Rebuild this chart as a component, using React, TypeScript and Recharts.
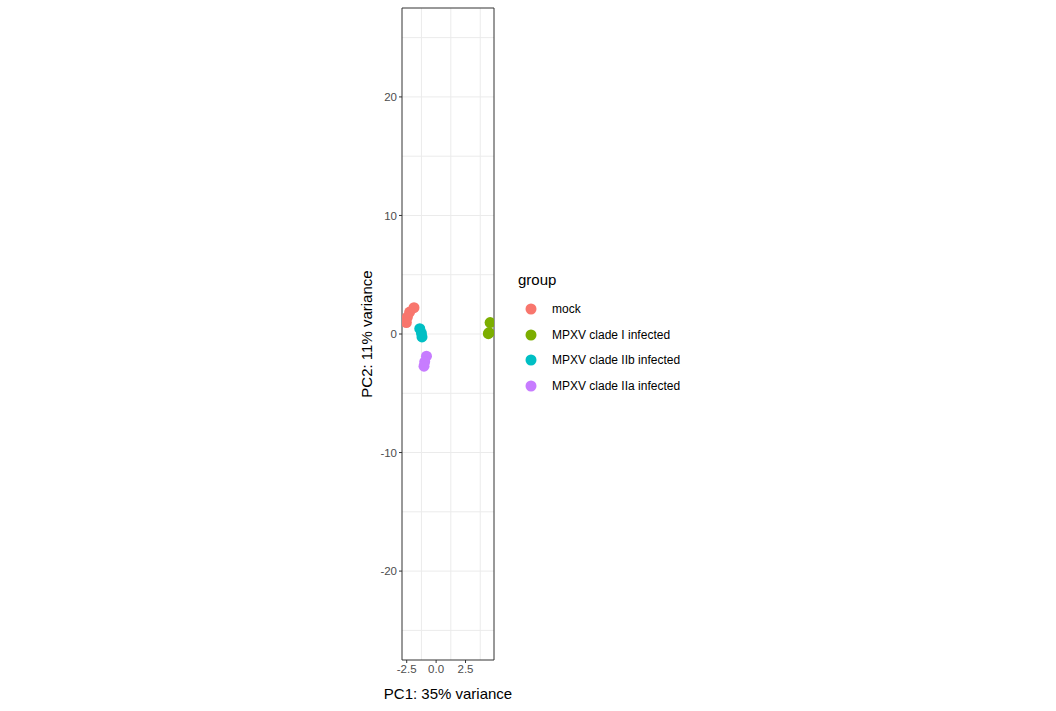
import React from "react";
import { ScatterChart, Scatter, XAxis, YAxis, CartesianGrid, ReferenceArea } from "recharts";

const groups = ["mock", "MPXV clade I infected", "MPXV clade IIb infected", "MPXV clade IIa infected"];
const colors = ["#F8766D", "#7CAE00", "#00BFC4", "#C77CFF"];
const mockPts = [{ x: -1.88, y: 2.22 }, { x: -2.25, y: 1.85 }, { x: -2.44, y: 1.43 }, { x: -2.53, y: 0.96 }];
const clade1Pts = [{ x: 4.59, y: 0.96 }, { x: 4.44, y: 0.03 }, { x: 4.5, y: 0.12 }];
const clade2bPts = [{ x: -1.39, y: 0.45 }, { x: -1.25, y: 0.08 }, { x: -1.2, y: -0.25 }];
const clade2aPts = [{ x: -0.82, y: -1.87 }, { x: -0.97, y: -2.35 }, { x: -1.03, y: -2.71 }];
const series = [mockPts, clade1Pts, clade2bPts, clade2aPts];
const xTicks = [-2.5, 0, 2.5];
const yTicks = [-20, -10, 0, 10, 20];
const xGrid = [-2.5, -1.25, 0, 1.25, 2.5, 3.75];
const yGrid = [-25, -20, -15, -10, -5, 0, 5, 10, 15, 20, 25];
const xDomain: [number, number] = [-2.9, 4.92];
const yDomain: [number, number] = [-27.5, 27.5];

const font = "'Liberation Sans', Arial, sans-serif";
const dot = (color: string) => (p: any) => <circle cx={p.cx} cy={p.cy} r={5.5} fill={color} />;

const LegendBox = () => (
  <div style={{ position: "absolute", left: 518, top: 271, width: 220, fontFamily: font, color: "#000" }}>
    <div style={{ fontSize: 15, marginBottom: 8 }}>group</div>
    {groups.map((g, i) => (
      <div key={g} style={{ display: "flex", alignItems: "center", height: 25.7, fontSize: 12 }}>
        <svg width={24} height={16}><circle cx={13} cy={8} r={5.5} fill={colors[i]} /></svg>
        <span style={{ marginLeft: 10 }}>{g}</span>
      </div>
    ))}
  </div>
);

export default function App() {
  return (
    <div style={{ position: "absolute", left: 0, top: 0, width: 1056, height: 711, background: "#fff" }}>
      <ScatterChart width={1056} height={711} margin={{ top: 8, right: 562, bottom: 0, left: 340 }}>
        <CartesianGrid stroke="#ebebeb" horizontalValues={yGrid} verticalValues={xGrid} />
        <XAxis type="number" dataKey="x" domain={xDomain} ticks={xTicks} allowDataOverflow axisLine={false}
          tickLine={{ stroke: "#333" }} tickSize={3} height={51}
          tick={{ fill: "#4d4d4d", fontSize: 11.5, fontFamily: font }}
          tickFormatter={(v: number) => v.toFixed(1)}
          label={{ value: "PC1: 35% variance", position: "insideBottom", offset: 12, fill: "#000", fontSize: 15, fontFamily: font }} />
        <YAxis type="number" dataKey="y" domain={yDomain} ticks={yTicks} allowDataOverflow axisLine={false}
          tickLine={{ stroke: "#333" }} tickSize={3} width={62}
          tick={{ fill: "#4d4d4d", fontSize: 11.5, fontFamily: font }}
          label={{ value: "PC2: 11% variance", angle: -90, position: "insideLeft", offset: 27, fill: "#000", fontSize: 15, fontFamily: font, style: { textAnchor: "middle" } }} />
        <ReferenceArea x1={xDomain[0]} x2={xDomain[1]} y1={yDomain[0]} y2={yDomain[1]} fill="none" stroke="#333" strokeWidth={1} ifOverflow="visible" />
        {series.map((d, i) => (
          <Scatter key={groups[i]} name={groups[i]} data={d} fill={colors[i]} shape={dot(colors[i])} isAnimationActive={false} />
        ))}
      </ScatterChart>
      <LegendBox />
    </div>
  );
}
